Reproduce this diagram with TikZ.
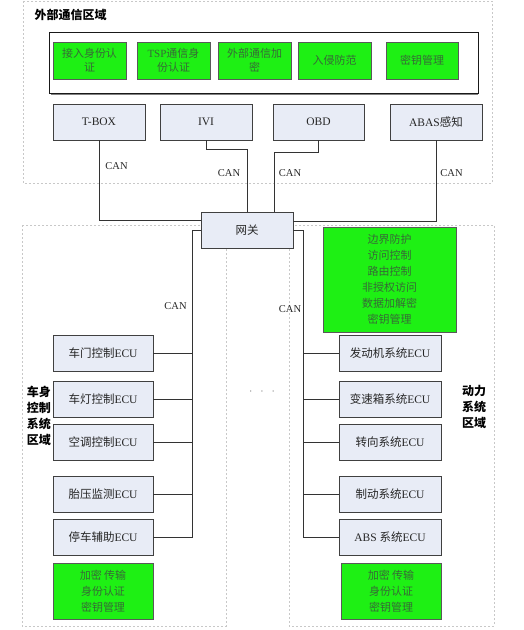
\documentclass[tikz,border=0pt]{standalone}
\usepackage{fontspec}
\setmainfont{Liberation Serif}
\newfontfamily\cjk{Noto Sans CJK SC}
\usetikzlibrary{positioning}
\definecolor{BoxBlue}{RGB}{232,236,246}
\definecolor{SafeGreen}{RGB}{30,240,20}
\definecolor{SafeText}{RGB}{55,105,55}
\definecolor{ZoneGray}{RGB}{200,200,200}

\begin{document}
\begin{tikzpicture}[x=1pt,y=-1pt,
    ecu/.style={draw=black!75, fill=BoxBlue, minimum width=100pt, minimum height=36pt,
      inner sep=0pt, text=black!85, font=\cjk\fontsize{11.5}{13}\selectfont},
    safe/.style={draw=black!65, fill=SafeGreen, inner sep=0pt, align=center,
      text=SafeText, font=\cjk\fontsize{11}{16}\selectfont},
    zone/.style={draw=ZoneGray, dash pattern=on 2pt off 2pt},
    bus/.style={draw=black!80, line width=0.6pt},
    canlbl/.style={font=\fontsize{10.5}{12}\selectfont, text=black!85},
    zonelbl/.style={font=\cjk\bfseries\fontsize{12}{16}\selectfont, align=center}]
    \useasboundingbox (0,0) rectangle (524,630);
    % zones
    \draw[zone] (23,1) rectangle (492,183);
    \draw[zone] (22,225) rectangle (226,626);
    \draw[zone] (289,225) rectangle (494,626);
    \node[zonelbl, anchor=west] (extlbl) at (31,15) {外部通信区域};
    \node[zonelbl] (bodylbl) at (39,416) {车身\\控制\\系统\\区域};
    \node[zonelbl] (powerlbl) at (474,407) {动力\\系统\\区域};
    % external security functions
    \draw[gray, line width=1.5pt] (51,94) -- (478,94);
    \draw[black!90, line width=0.8pt, fill=white] (49,32) rectangle (478,93);
    \node[safe, minimum width=73pt, minimum height=37pt, font=\cjk\fontsize{11}{14}\selectfont] (auth) at (89.5,60.5) {接入身份认\\证};
    \node[safe, minimum width=73pt, minimum height=37pt, font=\cjk\fontsize{11}{14}\selectfont] (tsp) at (173.5,60.5) {{\rmfamily TSP}通信身\\份认证};
    \node[safe, minimum width=73pt, minimum height=37pt, font=\cjk\fontsize{11}{14}\selectfont] (enc) at (254.5,60.5) {外部通信加\\密};
    \node[safe, minimum width=73pt, minimum height=37pt] (ids) at (334.5,60.5) {入侵防范};
    \node[safe, minimum width=72pt, minimum height=37pt] (keys) at (422,60.5) {密钥管理};
    % external interfaces
    \node[ecu, minimum width=92pt, font=\fontsize{11.5}{13}\selectfont] (tbox) at (99,122) {T-BOX};
    \node[ecu, minimum width=92pt, font=\fontsize{11.5}{13}\selectfont] (ivi) at (206,122) {IVI};
    \node[ecu, minimum width=91pt, font=\fontsize{11.5}{13}\selectfont] (obd) at (318.5,122) {OBD};
    \node[ecu, minimum width=92pt, font=\fontsize{11.5}{13}\selectfont] (abas) at (436,122) {ABAS{\cjk 感知}};
    % gateway
    \node[ecu, minimum width=92pt] (gw) at (247,230) {网关};
    \node[safe, minimum width=133pt, minimum height=105pt] (gwsafe) at (389.5,279.5) {边界防护\\访问控制\\路由控制\\非授权访问\\数据加解密\\密钥管理};
    \draw[bus] (tbox.south) |- ([yshift=10pt]gw.west);
    \draw[bus] (ivi.south) -- ++(0,9) -| (gw.north);
    \draw[bus] (obd.south) -- ++(0,12) -| ([xshift=27pt]gw.north);
    \draw[bus] (abas.south) |- ([yshift=9pt]gw.east);
    \node[canlbl] (can1) at (116.5,166) {CAN};
    \node[canlbl] (can2) at (229,173) {CAN};
    \node[canlbl] (can3) at (290,173) {CAN};
    \node[canlbl] (can4) at (451.5,173) {CAN};
    % body domain
    \node[ecu] (door) at (103,353) {车门控制{\rmfamily ECU}};
    \node[ecu] (lamp) at (103,399) {车灯控制{\rmfamily ECU}};
    \node[ecu] (ac) at (103,442) {空调控制{\rmfamily ECU}};
    \node[ecu] (tpms) at (103,494) {胎压监测{\rmfamily ECU}};
    \node[ecu] (park) at (103,537.5) {停车辅助{\rmfamily ECU}};
    \node[safe, minimum width=100pt, minimum height=56pt] (bodysafe) at (103,591) {加密 传输\\身份认证\\密钥管理};
    \coordinate (lbus) at (192,537.5);
    \draw[bus] (gw.west) -| (lbus);
    \foreach \n in {door,lamp,ac,tpms,park} \draw[bus] (\n.east) -- (\n.east -| lbus);
    \node[canlbl] (can5) at (175.5,306) {CAN};
    % power domain
    \node[ecu, minimum width=102pt] (engine) at (390,353) {发动机系统{\rmfamily ECU}};
    \node[ecu, minimum width=102pt] (gearbox) at (390,399) {变速箱系统{\rmfamily ECU}};
    \node[ecu, minimum width=102pt] (steer) at (390,442) {转向系统{\rmfamily ECU}};
    \node[ecu, minimum width=102pt] (brake) at (390,494) {制动系统{\rmfamily ECU}};
    \node[ecu, minimum width=102pt] (abs) at (390,537.5) {{\rmfamily ABS }系统{\rmfamily ECU}};
    \node[safe, minimum width=100pt, minimum height=56pt] (powersafe) at (391,591) {加密 传输\\身份认证\\密钥管理};
    \coordinate (rbus) at (303,537.5);
    \draw[bus] (gw.east) -| (rbus);
    \foreach \n in {engine,gearbox,steer,brake,abs} \draw[bus] (\n.west) -- (\n.west -| rbus);
    \node[canlbl] (can6) at (290,309) {CAN};
    \node[text=gray, font=\fontsize{12}{12}\selectfont] (more) at (262,392) {$\cdot\;\,\cdot\;\,\cdot$};
\end{tikzpicture}
\end{document}
